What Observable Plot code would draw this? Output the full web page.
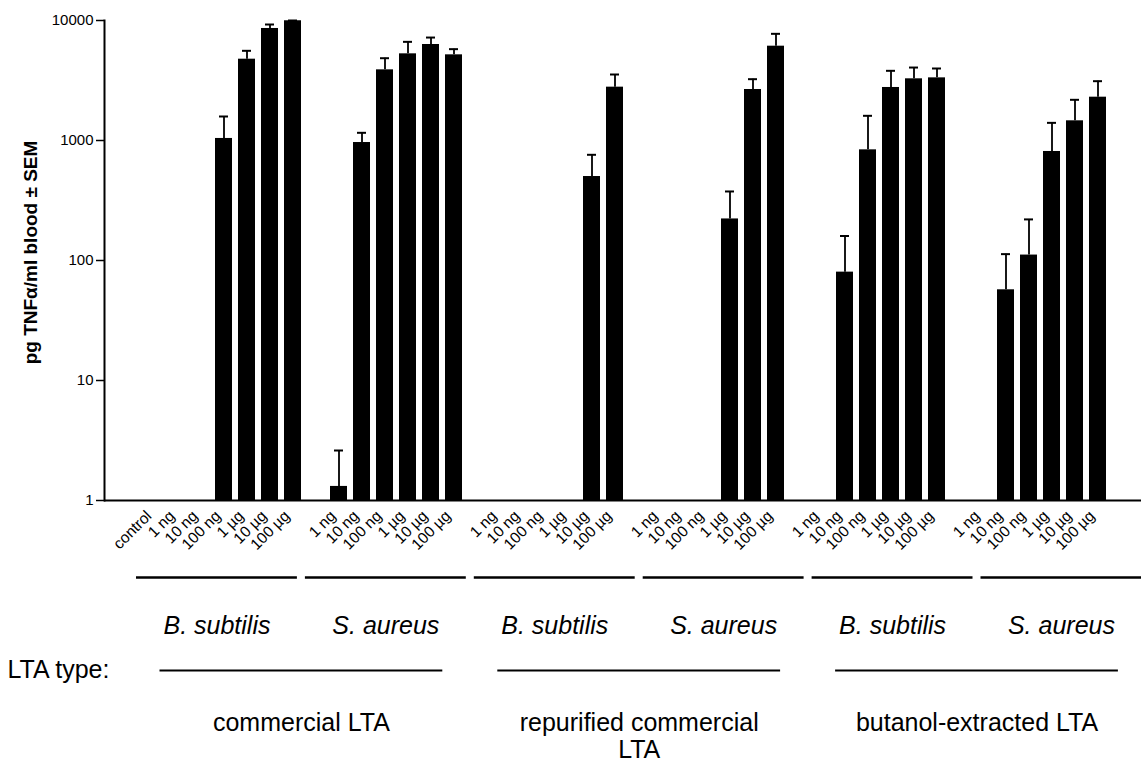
<!DOCTYPE html>
<html><head><meta charset="utf-8">
<script src="https://cdn.jsdelivr.net/npm/d3@7"></script>
<script src="https://cdn.jsdelivr.net/npm/@observablehq/plot@0.6"></script>
<style>
body{margin:0;background:#fff;}
#chart svg{display:block;}
</style></head><body><div id="chart"></div>
<script>
// ---- data ----
const doses = ["1 ng", "10 ng", "100 ng", "1 µg", "10 µg", "100 µg"];
const species = ["B. subtilis", "S. aureus", "B. subtilis", "S. aureus", "B. subtilis", "S. aureus"];
const ltaTypes = ["commercial LTA", "repurified commercial\nLTA", "butanol-extracted LTA"];
const yTicks = [1, 10, 100, 1000, 10000];

// mean pg TNFα/ml per dose (null = no detectable response)
const bsCommercial   = [null, null, 1040, 4760, 8580, 9950];
const saCommercial   = [1.31, 962, 3880, 5275, 6310, 5175];
const bsRepurified   = [null, null, null, null, 501, 2783];
const saRepurified   = [null, null, null, 222, 2661, 6109];
const bsButanol      = [null, 80, 836, 2766, 3266, 3327];
const saButanol      = [null, 57, 111, 810, 1459, 2296];
// mean + SEM
const bsCommercialUp = [null, null, 1585, 5590, 9260, 10000];
const saCommercialUp = [2.61, 1159, 4850, 6640, 7210, 5770];
const bsRepurifiedUp = [null, null, null, null, 760, 3548];
const saRepurifiedUp = [null, null, null, 376, 3243, 7743];
const bsButanolUp    = [null, 160, 1606, 3808, 4055, 3981];
const saButanolUp    = [null, 113, 220, 1403, 2183, 3121];

const means = [bsCommercial, saCommercial, bsRepurified, saRepurified, bsButanol, saButanol];
const uppers = [bsCommercialUp, saCommercialUp, bsRepurifiedUp, saRepurifiedUp, bsButanolUp, saButanolUp];

// slot 0 = control, each group = spacer/control + 6 doses
const nSlots = 7 * species.length;
const rows = [];
means.forEach((arr, g) => arr.forEach((v, j) => {
  if (v != null) rows.push({slot: 7 * g + j + 1, mean: v, upper: uppers[g][j]});
}));
const slotLabel = k => k === 0 ? "control" : (k % 7 === 0 ? "" : doses[k % 7 - 1]);

const font = "'Liberation Sans', Arial, Helvetica, sans-serif";

const W = 1141, H1 = 565, H2 = 197;

const chart = Plot.plot({
  width: W, height: H1,
  marginLeft: 104, marginRight: 0, marginTop: 20, marginBottom: H1 - 500,
  style: {fontFamily: font, color: "black", background: "white"},
  x: {type: "band", domain: d3.range(nSlots), range: [145.5, 1106.7], paddingInner: 0.262, paddingOuter: 0},
  y: {type: "log", domain: [1, 10000]},
  marks: [
    Plot.barY(rows, {x: "slot", y1: 1, y2: "mean", fill: "black"}),
    Plot.ruleX(rows, {x: "slot", y1: "mean", y2: "upper", stroke: "black", strokeWidth: 1.8}),
    Plot.tickY(rows, {x: "slot", y: "upper", stroke: "black", strokeWidth: 2, insetLeft: 4, insetRight: 4}),
    Plot.ruleY([1], {stroke: "black", strokeWidth: 2}),
    Plot.frame({anchor: "left", stroke: "black", strokeWidth: 2}),
    Plot.axisY({ticks: yTicks, tickFormat: d => String(d), tickSize: 8, tickPadding: 3, fontSize: 15, label: null, strokeWidth: 1.5}),
    Plot.axisX({tickFormat: slotLabel, tickRotate: -45, tickSize: 0, tickPadding: 13, dx: -6, fontSize: 15.5, label: null}),
    Plot.text(["pg TNFα/ml blood ± SEM"], {frameAnchor: "left", textAnchor: "middle", rotate: -90, dx: -74, dy: -8, fontWeight: "bold", fontSize: 19, fill: "black"})
  ]
});

const gap = 8 / 168.9, inset = 23.5 / 168.9;
const annot = Plot.plot({
  width: W, height: H2,
  margin: 0,
  style: {fontFamily: font, color: "black", background: "white"},
  x: {type: "linear", domain: [0, 6], range: [136, 136 + 6 * 168.9], axis: null},
  y: {type: "linear", domain: [0, H2], range: [0, H2], axis: null},
  marks: [
    Plot.ruleY(species, {x1: (d, i) => i, x2: (d, i) => i + 1 - gap, y: 12, stroke: "black", strokeWidth: 2.3}),
    Plot.text(species, {x: (d, i) => i + (1 - gap) / 2, y: 60, text: d => d, fontStyle: "italic", fontSize: 25, fill: "black"}),
    Plot.text(["LTA type:"], {frameAnchor: "left", y: 104, dx: 7, textAnchor: "start", fontSize: 25, fill: "black"}),
    Plot.ruleY(ltaTypes, {x1: (d, i) => 2 * i + inset, x2: (d, i) => 2 * i + 2 - gap - inset, y: 105, stroke: "black", strokeWidth: 2}),
    Plot.text(ltaTypes, {x: (d, i) => 2 * i + (2 - gap) / 2, y: 147, text: d => d, lineAnchor: "top", lineHeight: 1.06, fontSize: 25, fill: "black"})
  ]
});

document.getElementById("chart").append(chart, annot);
</script>
</body></html>
